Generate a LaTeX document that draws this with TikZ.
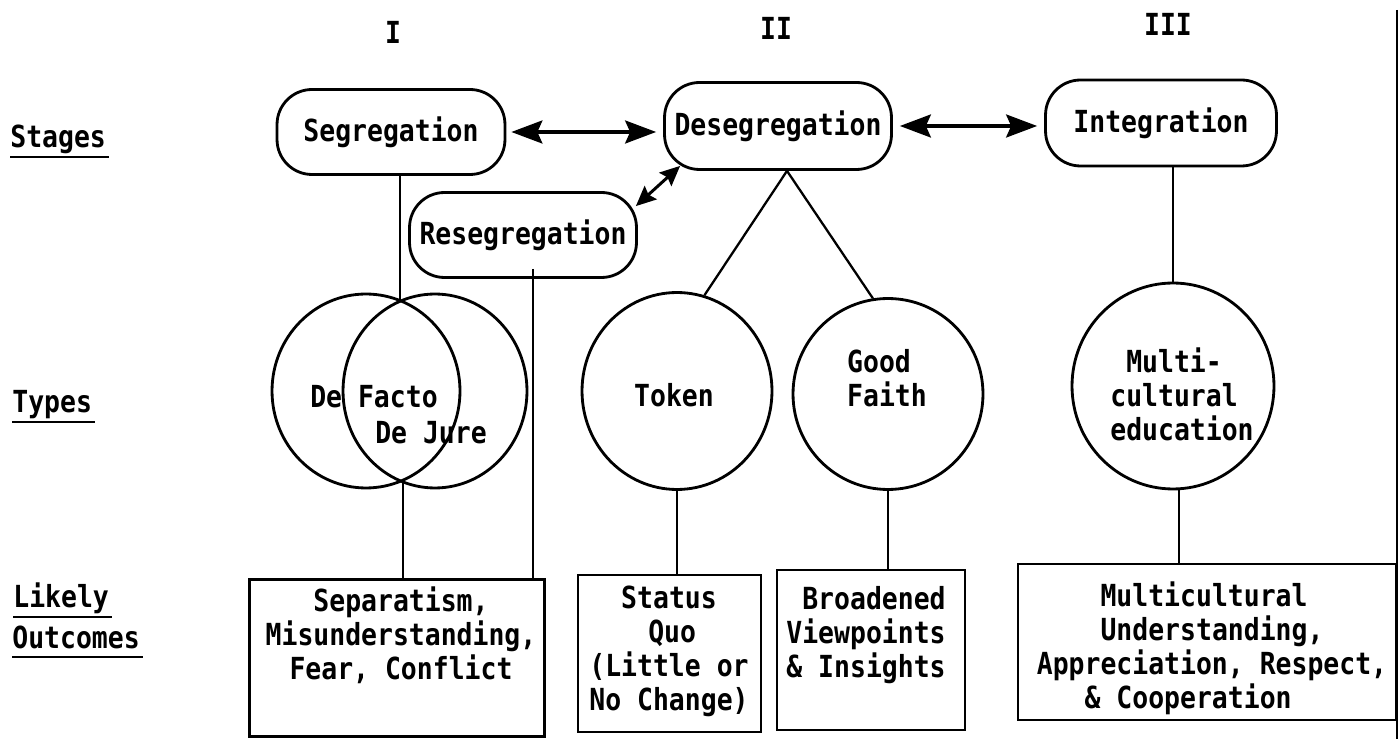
\documentclass[tikz,border=0pt]{standalone}
\usepackage{fontspec}
\setmainfont{DejaVu Sans Mono}[FakeStretch=0.87]
\usetikzlibrary{shapes.geometric,arrows.meta,calc}
\newcommand\diagfont{\fontsize{17.3}{19.35}\selectfont\bfseries}
\newcommand\myul[1]{\setbox0=\hbox{#1}\leavevmode\rlap{\copy0}\rule[-5.8pt]{\dimexpr\wd0+2pt\relax}{1.4pt}}
\newcommand\ind[1]{\hspace*{#1\fontcharwd\font`\M}}
\begin{document}
\begin{tikzpicture}[x=0.02cm,y=-0.02cm,
  every node/.style={inner sep=0pt, font=\diagfont},
  stagebox/.style={draw, rectangle, line width=1.6pt, rounded corners=0.7cm},
  typecirc/.style={draw, ellipse, line width=1.6pt},
  outbox/.style={draw, rectangle, line width=1.6pt},
  conn/.style={line width=1.3pt},
  dbl/.style={line width=1.8pt, {Stealth[length=0.62cm,width=0.46cm,inset=0.1cm]}-{Stealth[length=0.62cm,width=0.46cm,inset=0.1cm]}},
  dblsmall/.style={line width=1.7pt, {Stealth[length=0.4cm,width=0.36cm,inset=0.06cm]}-{Stealth[length=0.4cm,width=0.36cm,inset=0.06cm]}},
  lbl/.style={anchor=base west}
]
\useasboundingbox (0,0) rectangle (1400,739);

% column numerals
\node (n1) at (393,32) {I};
\node (n2) at (776,28) {II};
\node (n3) at (1168,24) {III};

% row labels
\node[lbl] (stages) at (10,148) {\myul{Stages}};
\node[lbl] (types) at (12,413) {\myul{Types}};
\node[lbl] (likely) at (13,608) {\myul{Likely}};
\node[lbl] (outcomes) at (12,648) {\myul{Outcomes}};

% stages
\node[stagebox, minimum width=4.56cm, minimum height=1.70cm] (seg) at (391,132) {Segregation};
\node[stagebox, minimum width=4.54cm, minimum height=1.74cm] (deseg) at (778,126) {Desegregation};
\node[stagebox, minimum width=4.62cm, minimum height=1.72cm] (integ) at (1161,123) {Integration};
\node[stagebox, minimum width=4.54cm, minimum height=1.70cm] (reseg) at (523,235) {Resegregation};

% types
\node[typecirc, minimum width=3.76cm, minimum height=3.88cm] (venL) at (366,391) {};
\node[typecirc, minimum width=3.68cm, minimum height=3.88cm] (venR) at (435,391) {};
\node (defacto) at (374,397) {De Facto};
\node (dejure) at (431,433) {De Jure};
\node[typecirc, minimum width=3.80cm, minimum height=3.94cm] (token) at (677,391) {};
\node (tokentxt) at (674,395) {Token};
\node[typecirc, minimum width=3.80cm, minimum height=3.82cm] (good) at (888,394) {};
\node[anchor=north, align=left] (goodtxt) at (887,349) {Good\\Faith};
\node[typecirc, minimum width=4.04cm, minimum height=4.12cm] (multi) at (1173,386) {};
\node[anchor=north, align=left] (multitxt) at (1182,347) {\ind{1}Multi-\\cultural\\education};

% outcomes
\node[outbox, minimum width=5.90cm, minimum height=3.14cm] (sep) at (397,658) {};
\node[anchor=north, align=center] (septxt) at (401,586) {Separatism,\\Misunderstanding,\\Fear, Conflict};
\node[outbox, minimum width=3.66cm, minimum height=3.14cm] (stat) at (669.5,653.5) {};
\node[anchor=north, align=left] (stattxt) at (669,586) {\ind{2}Status\\\ind{3.7}Quo\\(Little or\\No Change)};
\node[outbox, minimum width=3.76cm, minimum height=3.20cm] (broad) at (871,650) {};
\node[anchor=north, align=right] (broadtxt) at (866,586) {Broadened\\Viewpoints\\\& Insights};
\node[outbox, minimum width=7.56cm, minimum height=3.12cm] (mcu) at (1207,642) {};
\node[anchor=north, align=left] (mcutxt) at (1212,581) {\ind{4}Multicultural\\\ind{4}Understanding,\\Appreciation, Respect,\\\ind{3}\& Cooperation};

% arrows between stages
\draw[dbl, shorten <=0.1cm, shorten >=0.14cm] (seg.east) -- (seg.east -| deseg.west);
\draw[dbl, shorten <=0.14cm, shorten >=0.14cm] (deseg.east) -- (deseg.east -| integ.west);
\draw[dblsmall] ($(reseg.north east)+(-2,15)$) -- ($(deseg.south west)+(17,-5)$);

% connectors
\coordinate (vtop) at (400,301);
\coordinate (vbot) at (403,481);
\draw[conn] (vtop |- seg.south) -- (vtop);
\draw[conn] (vbot) -- (vbot |- sep.north);
\coordinate (rsb) at ($(reseg.south)+(10,-10)$);
\draw[conn] (rsb) -- (rsb |- sep.north);
\coordinate (dap) at ($(deseg.south)+(9,0)$);
\draw[conn] (token.74) -- (dap) -- (good.99);
\draw[conn] (token.south) -- (token.south |- stat.north);
\draw[conn] (good.south) -- (good.south |- broad.north);
\draw[conn] (multi.north |- integ.south) -- (multi.north);
\coordinate (msb) at ($(multi.south)+(6,0)$);
\draw[conn] (msb) -- (msb |- mcu.north);

% page edge
\draw[line width=0.8pt] (1397,10) -- (1397,739);
\end{tikzpicture}
\end{document}
